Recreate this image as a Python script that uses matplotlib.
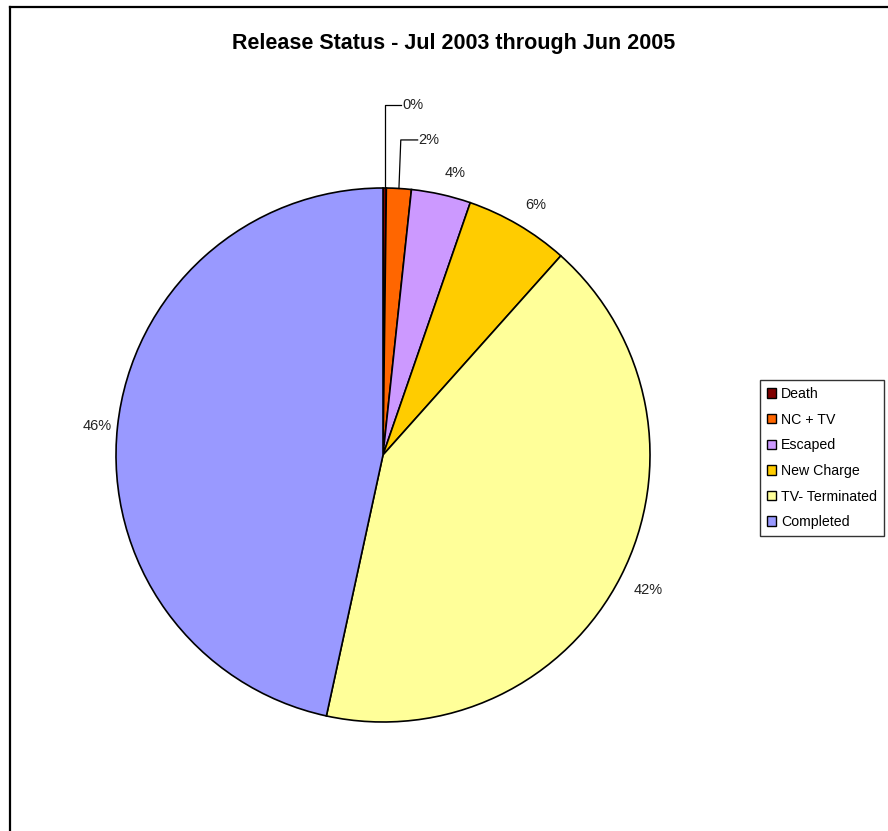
import numpy as np
import matplotlib.pyplot as plt
from matplotlib.lines import Line2D

plt.rcParams['font.family'] = ['Liberation Sans', 'DejaVu Sans']

# data (percent of releases)
categories = ["Death", "NC + TV", "Escaped", "New Charge", "TV- Terminated", "Completed"]
values = [0.2, 1.5, 3.6, 6.3, 41.8, 46.6]
pct_labels = ["0%", "2%", "4%", "6%", "42%", "46%"]
colors = ["#800000", "#FF6600", "#CC99FF", "#FFCC00", "#FFFF99", "#9999FF"]

W, H = 888, 831
fig = plt.figure(figsize=(W / 100, H / 100), dpi=100)

# pie centre / radius in pixels
cx, cy, r = 383, 455, 267
ax = fig.add_axes([(cx - r) / W, (H - cy - r) / H, 2 * r / W, 2 * r / H])
wedges, _ = ax.pie(values, colors=colors, startangle=90, counterclock=False,
                   radius=1, wedgeprops=dict(edgecolor="black", linewidth=1.2))
ax.set_xlim(-1, 1)
ax.set_ylim(-1, 1)
ax.set_aspect("equal")
ax.axis("off")

# percentage labels
lead_y = {0: 1.31, 1: 1.18}
for i, (w, lab) in enumerate(zip(wedges, pct_labels)):
    mid = np.deg2rad((w.theta1 + w.theta2) / 2)
    x, y = np.cos(mid), np.sin(mid)
    if i in lead_y:
        ty = lead_y[i]
        x0 = x if i == 0 else x + 0.007
        ax.plot([x, x0, x0 + 0.063], [y, ty, ty], color="black", lw=0.9,
                clip_on=False)
        ax.text(x0 + 0.066, ty, lab, ha="left", va="center", fontsize=10.5,
                color="#222222", clip_on=False)
    else:
        ha = "left" if x > 0 else "right"
        va = "center" if abs(y) < 0.2 else ("bottom" if y > 0 else "top")
        rr = 1.055 if abs(y) >= 0.2 else 1.02
        ax.text(rr * x, rr * y, lab, ha=ha, va=va, fontsize=10.5,
                color="#222222", clip_on=False)

fig.text(454 / W, 1 - 43 / H, "Release Status - Jul 2003 through Jun 2005",
         ha="center", va="center", fontsize=15.5, fontweight="bold")

leg = fig.legend(wedges, categories, loc="upper left",
                 bbox_to_anchor=(760 / W, 1 - 380 / H), fontsize=10.2,
                 frameon=True, fancybox=False, handlelength=0.65,
                 handleheight=0.65, handletextpad=0.35, labelspacing=0.82,
                 borderpad=0.5, borderaxespad=0)
leg.get_frame().set_edgecolor("black")
leg.get_frame().set_linewidth(1.0)
for h in leg.legend_handles:
    h.set_linewidth(1.0)

# chart area border (left and top edges visible)
fig.add_artist(Line2D([10 / W, 10 / W], [0, 1 - 7 / H], color="black", lw=1.6))
fig.add_artist(Line2D([10 / W, 1], [1 - 7 / H, 1 - 7 / H], color="black", lw=1.6))

fig.savefig("out.png", dpi=100)
